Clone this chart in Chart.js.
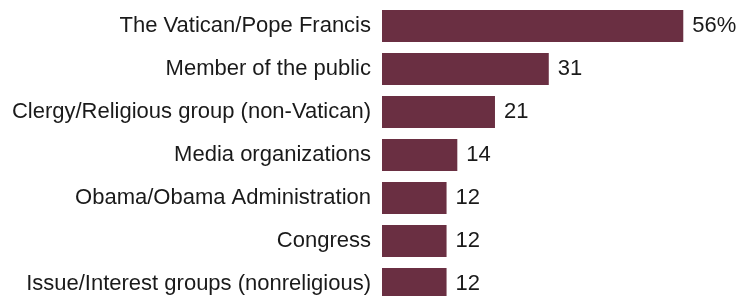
<!DOCTYPE html>
<html>
<head>
<meta charset="utf-8">
<script src="https://cdn.jsdelivr.net/npm/chart.js@4/dist/chart.umd.min.js"></script>
<style>
html,body{margin:0;padding:0;background:#fff;overflow:hidden;}
#wrap{width:743px;height:306px;}
</style>
</head>
<body>
<div id="wrap"><canvas id="c" width="743" height="306"></canvas></div>
<script>
const categories = [
  "The Vatican/Pope Francis",
  "Member of the public",
  "Clergy/Religious group (non-Vatican)",
  "Media organizations",
  "Obama/Obama Administration",
  "Congress",
  "Issue/Interest groups (nonreligious)"
];
const values = [56, 31, 21, 14, 12, 12, 12];
const valueLabels = ["56%", "31", "21", "14", "12", "12", "12"];

const FONT = "'Liberation Sans', Arial, sans-serif";
const TEXT = "#1a1a1a";

const labelPlugin = {
  id: 'labels',
  afterDatasetsDraw(chart) {
    const ctx = chart.ctx;
    const meta = chart.getDatasetMeta(0);
    const yScale = chart.scales.y;
    const left = chart.chartArea.left;
    ctx.save();
    ctx.font = "22px " + FONT;
    ctx.fillStyle = TEXT;
    ctx.textBaseline = 'alphabetic';
    meta.data.forEach((bar, i) => {
      ctx.textAlign = 'left';
      ctx.fillText(valueLabels[i], bar.x + 9, bar.y + 6);
      ctx.textAlign = 'right';
      ctx.fillText(categories[i], left - 11, yScale.getPixelForValue(i) + 6);
    });
    ctx.restore();
  }
};

new Chart(document.getElementById('c'), {
  type: 'bar',
  data: {
    labels: categories,
    datasets: [{
      data: values,
      backgroundColor: '#6a2f42',
      borderWidth: 0,
      categoryPercentage: 1,
      barPercentage: 32/43
    }]
  },
  options: {
    indexAxis: 'y',
    responsive: false,
    animation: false,
    layout: { padding: { left: 382, right: 38.2, top: 4.5, bottom: 0.5 } },
    plugins: { legend: { display: false }, tooltip: { enabled: false } },
    scales: {
      x: { display: false, min: 0, max: 60 },
      y: { display: false }
    }
  },
  plugins: [labelPlugin]
});
</script>
</body>
</html>
